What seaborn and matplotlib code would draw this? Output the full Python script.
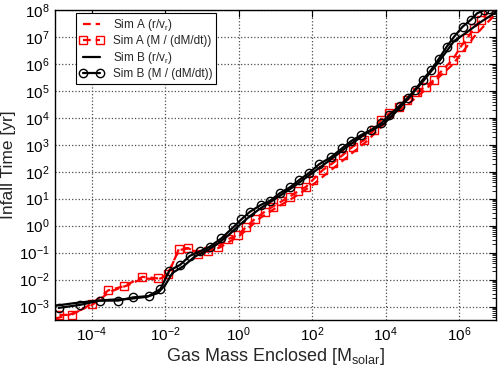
import numpy as np
import pandas as pd
import seaborn as sns
import matplotlib
matplotlib.use("Agg")
import matplotlib.pyplot as plt
from matplotlib.ticker import LogLocator, NullLocator, NullFormatter

# Sim A (r/v_r)
simA_rv_mass = [1e-5, 2.51e-5, 1e-4, 3.16e-4, 1e-3, 2.51e-3, 6.31e-3, 1.12e-2, 2.0e-2, 2.51e-2,
                3.98e-2, 7.94e-2, 0.158, 0.316, 0.631, 1.0, 2.0, 3.98, 10, 31.6, 100, 316, 1000,
                3160, 7940, 1.58e4, 3.98e4, 1e5, 2.51e5, 6.31e5, 1.26e6, 2.51e6, 5.01e6, 1e7]
simA_rv_time = [3.55e-4, 5.01e-4, 1.12e-3, 3.55e-3, 6.31e-3, 1.12e-2, 1.0e-2, 1.41e-2, 7.94e-2, 0.126,
                0.141, 0.1, 0.112, 0.158, 0.282, 0.398, 0.891, 2.0, 4.47, 11.2, 31.6, 112, 398,
                1410, 5010, 1.26e4, 3.16e4, 8.91e4, 2.82e5, 8.91e5, 2.82e6, 1.0e7, 2.82e7, 7.08e7]

# Sim A (M / (dM/dt))
simA_md_mass = [1.32e-5, 2.82e-5, 1e-4, 2.82e-4, 7.41e-4, 2.4e-3, 6.46e-3, 1.2e-2, 2.34e-2, 4.17e-2,
                7.94e-2, 0.148, 0.275, 0.513, 0.955, 1.62, 2.69, 5.13, 8.51, 14.5, 24.5, 40.7,
                69.2, 102, 195, 363, 676, 1260, 2630, 4900, 7410, 1.26e4, 2.34e4, 3.89e4, 7.24e4,
                1.23e5, 2.04e5, 3.47e5, 6.61e5, 1.1e6, 1.66e6, 2.51e6, 3.89e6, 5.89e6]
simA_md_time = [4.9e-4, 4.9e-4, 1.26e-3, 3.98e-3, 5.62e-3, 1.26e-2, 1.1e-2, 1.58e-2, 0.135, 0.148,
                8.91e-2, 0.11, 0.166, 0.316, 0.457, 0.912, 1.74, 3.31, 5.13, 7.94, 12.0, 18.6,
                28.2, 49.0, 117, 209, 417, 851, 1510, 3550, 8320, 1.48e4, 2.63e4, 4.57e4, 9.33e4,
                1.45e5, 2.51e5, 5.89e5, 1.41e6, 4.37e6, 8.91e6, 2.14e7, 4.27e7, 7.59e7]

# Sim B (r/v_r)
simB_rv_mass = [1e-5, 3.16e-5, 1e-4, 3.16e-4, 1e-3, 3.16e-3, 6.31e-3, 1e-2, 1.58e-2, 3.16e-2,
                6.31e-2, 0.126, 0.251, 0.501, 1.0, 2.0, 3.98, 10, 31.6, 100, 316, 1000, 3160,
                8910, 2.0e4, 3.98e4, 1e5, 2.51e5, 5.01e5, 7.24e5, 1.35e6, 3.8e6, 1e7]
simB_rv_time = [1.07e-3, 1.32e-3, 1.58e-3, 1.78e-3, 1.91e-3, 2.29e-3, 3.16e-3, 6.31e-3, 1.78e-2, 3.16e-2,
                7.08e-2, 0.112, 0.2, 0.417, 1.0, 2.24, 4.47, 10, 28.2, 89.1, 282, 955, 2820,
                6030, 1.78e4, 5.01e4, 2.14e5, 1.0e6, 3.55e6, 7.08e6, 1.26e7, 3.55e7, 8.32e7]

# Sim B (M / (dM/dt))
simB_md_mass = [1.26e-5, 4.79e-5, 1.66e-4, 5.25e-4, 1.35e-3, 3.55e-3, 7.41e-3, 1.29e-2, 2.51e-2, 4.68e-2,
                8.71e-2, 0.162, 0.339, 0.708, 1.17, 2.0, 3.98, 7.24, 12.9, 24.5, 43.7, 79.4, 155,
                316, 646, 1150, 2140, 3980, 7590, 1.26e4, 2.4e4, 3.98e4, 6.17e4, 1.0e5, 1.7e5,
                2.82e5, 4.57e5, 7.24e5, 1.23e6, 2.04e6, 3.09e6, 4.79e6, 6.31e6]
simB_md_time = [8.9e-4, 1.15e-3, 1.66e-3, 1.66e-3, 2.19e-3, 2.45e-3, 4.47e-3, 2.14e-2, 3.47e-2, 7.59e-2,
                0.11, 0.166, 0.339, 0.871, 1.7, 3.24, 5.89, 8.51, 15.8, 26.3, 49.0, 87.1, 191,
                339, 741, 1380, 2290, 3550, 6310, 1.26e4, 2.82e4, 5.62e4, 1.07e5, 2.51e5, 5.89e5,
                1.58e6, 4.37e6, 1.02e7, 2.4e7, 4.27e7, 7.59e7, 1.0e8, 1.12e8]

x_ticks = [1e-4, 1e-2, 1e0, 1e2, 1e4, 1e6]
y_ticks = [1e-3, 1e-2, 1e-1, 1e0, 1e1, 1e2, 1e3, 1e4, 1e5, 1e6, 1e7, 1e8]

sns.set_style("white")
plt.rcParams['font.family'] = ['Liberation Sans', 'DejaVu Sans']
plt.rcParams['mathtext.fontset'] = 'custom'
plt.rcParams['mathtext.rm'] = 'Liberation Sans'
plt.rcParams['mathtext.it'] = 'Liberation Sans:italic'
plt.rcParams['mathtext.bf'] = 'Liberation Sans:bold'

fig = plt.figure(figsize=(4.98, 3.70), dpi=100)
ax = fig.add_axes([55/498, 50/370, 441/498, 310/370])

dash = (3.5, 2.2)
sns.lineplot(x=simA_rv_mass, y=simA_rv_time, ax=ax, color='red', lw=1.6, dashes=dash,
             sort=False, label=r'Sim A (r/v$\mathregular{_r}$)')
sns.lineplot(x=simA_md_mass, y=simA_md_time, ax=ax, color='red', lw=1.6, dashes=dash,
             marker='s', markersize=5.5, markerfacecolor='none', markeredgecolor='red',
             markeredgewidth=1.0, sort=False, label='Sim A (M / (dM/dt))')
sns.lineplot(x=simB_rv_mass, y=simB_rv_time, ax=ax, color='black', linestyle='-', lw=1.6,
             sort=False, label=r'Sim B (r/v$\mathregular{_r}$)')
sns.lineplot(x=simB_md_mass, y=simB_md_time, ax=ax, color='black', linestyle='-', lw=1.6,
             marker='o', markersize=6, markerfacecolor='none', markeredgecolor='black',
             markeredgewidth=1.0, sort=False, label='Sim B (M / (dM/dt))')

ax.set_xscale('log')
ax.set_yscale('log')
ax.set_xlim(1e-5, 1e7)
ax.set_ylim(10**-3.5, 1e8)

ax.set_xticks(x_ticks)
ax.xaxis.set_minor_locator(NullLocator())
ax.set_yticks(y_ticks)
ax.yaxis.set_minor_locator(LogLocator(base=10.0, subs=np.arange(2, 10), numticks=50))
ax.yaxis.set_minor_formatter(NullFormatter())

ax.grid(True, which='major', linestyle=':', color='0.3', linewidth=0.9)
ax.tick_params(which='both', direction='in', top=True, right=True, colors='black')
ax.tick_params(which='major', length=5, labelsize=11, pad=4)
ax.tick_params(which='minor', length=3)
for s in ax.spines.values():
    s.set_color('black')
    s.set_linewidth(1.0)

ax.set_xlabel(r'Gas Mass Enclosed [M$\mathregular{_{solar}}$]', fontsize=13, labelpad=1)
ax.set_ylabel('Infall Time [yr]', fontsize=12.5, labelpad=2)

leg = ax.legend(loc='upper left', bbox_to_anchor=(0.048, 0.99), borderaxespad=0,
                fontsize=8.5, numpoints=2, handlelength=2.0, fancybox=False,
                edgecolor='black', framealpha=1, labelspacing=0.22, borderpad=0.3)
leg.get_frame().set_linewidth(0.8)

fig.savefig('out.png', dpi=100)
